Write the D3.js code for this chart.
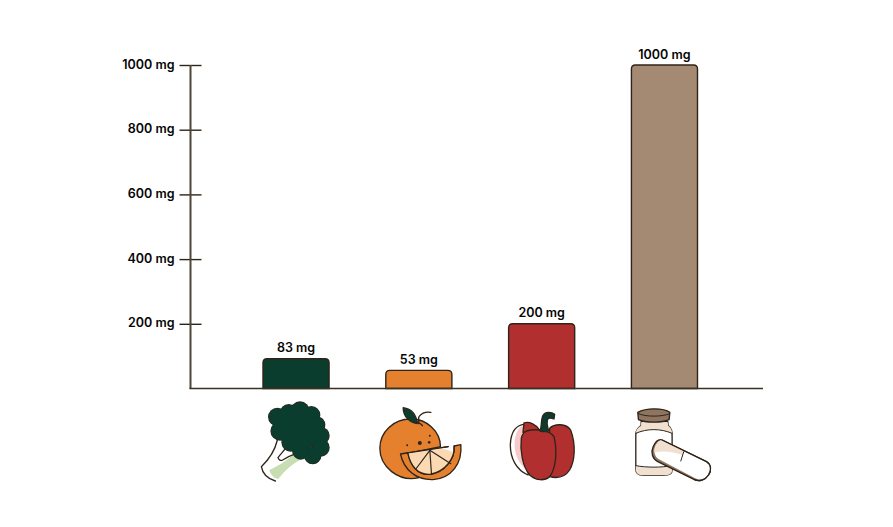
<!DOCTYPE html>
<html>
<head>
<meta charset="utf-8">
<script src="https://cdn.jsdelivr.net/npm/d3@7"></script>
<style>
  body { margin: 0; background: #fff; }
  text { font-family: Inter, sans-serif; font-weight: 600; fill: #050505; }
</style>
</head>
<body>
<div id="chart"></div>
<script>
const categories = ["Broccoli", "Orange", "Bell pepper", "Supplement"];
// bar heights as drawn in the picture (small bars sit a little above their printed label)
const barValues = [92, 56, 200, 1000];
const labelValues = [83, 53, 200, 1000];
const barColors = ["#0a3d2e", "#e5802f", "#b22f2f", "#a58a73"];
const tickValues = [200, 400, 600, 800, 1000];

const width = 893;
const height = 527;
const ink = "#2e2419";

const svg = d3.select("#chart").append("svg").attr("width", width).attr("height", height);

const xScale = d3.scaleBand().domain(categories).range([263, 697.5]).paddingInner(0.462).paddingOuter(0);
const yScale = d3.scaleLinear().domain([0, 1000]).range([388.5, 65]);

// Axes
const yAxis = d3.axisLeft(yScale).tickValues(tickValues).tickSize(11).tickPadding(5).tickFormat((d) => `${d} mg`);
const yG = svg.append("g").attr("transform", "translate(190.5, 0)").call(yAxis);
yG.select(".domain").remove();
yG.selectAll(".tick line").attr("x1", -11).attr("x2", 11).attr("stroke", ink).attr("stroke-width", 1.4);
yG.selectAll(".tick text").attr("font-size", 12.5).attr("dy", "0.25em").style("font-family", "Inter, sans-serif");

// Bars
svg.selectAll(".bar")
  .data(categories)
  .enter()
  .append("path")
  .attr("class", "bar")
  .attr("d", (d, i) => {
    const x = xScale(d), w = xScale.bandwidth(), y = yScale(barValues[i]), b = yScale(0), r = 4;
    return `M${x},${b}V${y + r}Q${x},${y} ${x + r},${y}H${x + w - r}Q${x + w},${y} ${x + w},${y + r}V${b}Z`;
  })
  .attr("fill", (d, i) => barColors[i])
  .attr("stroke", ink)
  .attr("stroke-width", 1.4);

svg.selectAll(".bar-label")
  .data(categories)
  .enter()
  .append("text")
  .attr("class", "bar-label")
  .attr("x", (d) => xScale(d) + xScale.bandwidth() / 2)
  .attr("y", (d, i) => yScale(barValues[i]) - 6.5)
  .attr("text-anchor", "middle")
  .attr("font-size", 12.5)
  .text((d, i) => `${labelValues[i]} mg`);

// axis lines on top of the bars
svg.append("line").attr("x1", 190.5).attr("x2", 190.5).attr("y1", 65).attr("y2", 389).attr("stroke", "#4e4538").attr("stroke-width", 2);
svg.append("line").attr("x1", 189.5).attr("x2", 763).attr("y1", 388.5).attr("y2", 388.5).attr("stroke", "#3a3024").attr("stroke-width", 1.6);

// Icons, drawn at 3x and shrunk down under each bar
function icon(cat, offset) {
  const cx = xScale(cat) + xScale.bandwidth() / 2;
  return svg.append("g")
    .attr("transform", `translate(${cx + offset}, 395) scale(0.3333)`)
    .attr("stroke-linejoin", "round")
    .attr("stroke-linecap", "round");
}
function part(g, d, fill, sw = 4, stroke = ink) {
  g.append("path").attr("d", d).attr("fill", fill).attr("stroke", stroke).attr("stroke-width", sw);
}

// broccoli
const broc = icon("Broccoli", -46);
part(broc, "M58,225 C80,215 100,205 132,178 L160,190 C130,205 105,225 85,252 C72,250 62,240 58,225Z", "#c7deb3", 0, "none");
part(broc, "M82,135 C75,165 55,195 34,215 C38,238 55,252 76,258", "none");
part(broc, "M108,158 C100,170 90,178 84,188 C86,196 92,198 98,195 C108,188 120,182 132,178", "none");
const crown = [[82, 66, 26], [116, 54, 25], [150, 48, 27], [184, 60, 25], [200, 90, 24], [213, 122, 24], [212, 158, 25],
  [188, 182, 24], [152, 168, 24], [122, 142, 26], [90, 108, 27], [148, 110, 58]];
broc.selectAll(".c1").data(crown).enter().append("circle").attr("cx", (d) => d[0]).attr("cy", (d) => d[1]).attr("r", (d) => d[2] + 2).attr("fill", ink);
broc.selectAll(".c2").data(crown).enter().append("circle").attr("cx", (d) => d[0]).attr("cy", (d) => d[1]).attr("r", (d) => d[2]).attr("fill", "#0a3d2e");

// orange
const org = icon("Orange", -49);
part(org, "M122,72 C170,70 212,110 212,155 L100,178 C110,215 125,238 148,248 C85,262 30,215 30,160 C30,110 72,72 122,72Z", "#e5802f");
part(org, "M100,38 C125,42 140,60 142,86 C120,82 100,65 100,38Z", "#0a3d2e");
part(org, "M146,86 C150,75 143,72 148,64 C158,52 170,50 183,52", "none");
part(org, "M140,80 C148,84 154,86 158,92", "none");
part(org, "M92,177 L235,155 M92,177 C102,225 140,256 190,254 C245,250 278,205 273,149 L253,153 C256,190 225,232 180,238 C145,240 122,215 114,173Z", "#e5802f");
part(org, "M114,174 L212,160 C225,162 240,168 252,172 C245,205 215,238 180,238 C145,240 122,212 114,174Z", "#fbd9b2", 0, "none");
part(org, "M114,174 L235,155 M180,166 L138,222 M180,166 L185,238 M180,166 L243,206", "none", 3.5);
part(org, "M114,174 C122,215 145,240 180,238 C225,232 256,190 253,153", "none");
org.selectAll(".seed").data([[150, 144, 6], [178, 142, 4], [112, 151, 3], [180, 122, 3]]).enter().append("circle")
  .attr("cx", (d) => d[0]).attr("cy", (d) => d[1]).attr("r", (d) => d[2]).attr("fill", ink);

// bell pepper
const pep = icon("Bell pepper", -47);
part(pep, "M92,88 C65,88 48,110 47,150 C47,190 65,225 100,240 L120,150Z", "#fff");
part(pep, "M82,92 C68,100 58,125 60,155 C62,185 75,205 90,220 L100,120Z", "#f8c9c9", 0, "none");
part(pep, "M165,100 C180,85 215,85 228,105 C245,150 240,200 225,225 C210,248 185,250 165,245Z", "#b22f2f");
part(pep, "M88,84 C105,78 125,90 135,105 L85,112Z", "#b22f2f");
part(pep, "M95,108 C125,100 165,105 178,125 C188,165 185,220 165,245 C150,258 125,258 105,240 C85,215 75,170 80,130 C82,118 88,112 95,108Z", "#b22f2f");
part(pep, "M136,108 C142,95 138,70 146,60 C152,50 170,50 180,58 L178,72 C168,68 160,68 158,76 C155,88 160,98 162,108 C152,111 145,110 136,108Z", "#0a3d2e");

// supplement bottle and capsule
const sup = icon("Supplement", -44);
part(sup, "M62,80 L142,80 L143,92 C155,100 155,112 155,125 L155,225 C155,238 145,241 130,241 L68,241 C55,241 46,236 46,222 L46,120 C46,105 52,98 62,92Z", "#fff");
part(sup, "M62,82 L142,82 L143,92 C155,100 155,112 155,115 C120,100 80,100 46,115 C46,105 52,98 62,92Z", "#f1dfd0", 0, "none");
part(sup, "M46,212 C80,218 120,218 155,212 L155,225 C155,238 145,241 130,241 L68,241 C55,241 46,236 46,222Z", "#f1dfd0", 0, "none");
part(sup, "M46,115 C80,100 120,100 155,115 M46,212 C80,218 120,218 155,212", "none", 3);
part(sup, "M52,52 C75,38 130,38 148,52 L146,74 C125,84 75,84 54,74Z", "#8f7460");
part(sup, "M54,56 C75,66 125,66 148,56", "none", 3);
// capsule: brown shell showing along the lower left, white body over it
part(sup, "M125,135 L258,200 C272,208 274,226 264,240 C254,256 236,260 222,254 L112,200 C96,192 90,172 98,155 C105,140 115,131 125,135Z", "#8f7460");
part(sup, "M125,137 L257,201 C271,209 272,226 263,239 C254,253 237,257 224,250 L114,192 C103,185 100,170 103,158 C108,145 116,133 125,137Z", "#fff", 0, "none");
part(sup, "M125,137 L190,168 L185,180 C160,170 130,166 102,172 C101,165 102,162 103,158 C108,145 116,133 125,137Z", "#f1dfd0", 0, "none");
part(sup, "M190,170 L181,198", "none", 3);
part(sup, "M125,135 L258,200 C272,208 274,226 264,240 C254,256 236,260 222,254", "none");
</script>
</body>
</html>
